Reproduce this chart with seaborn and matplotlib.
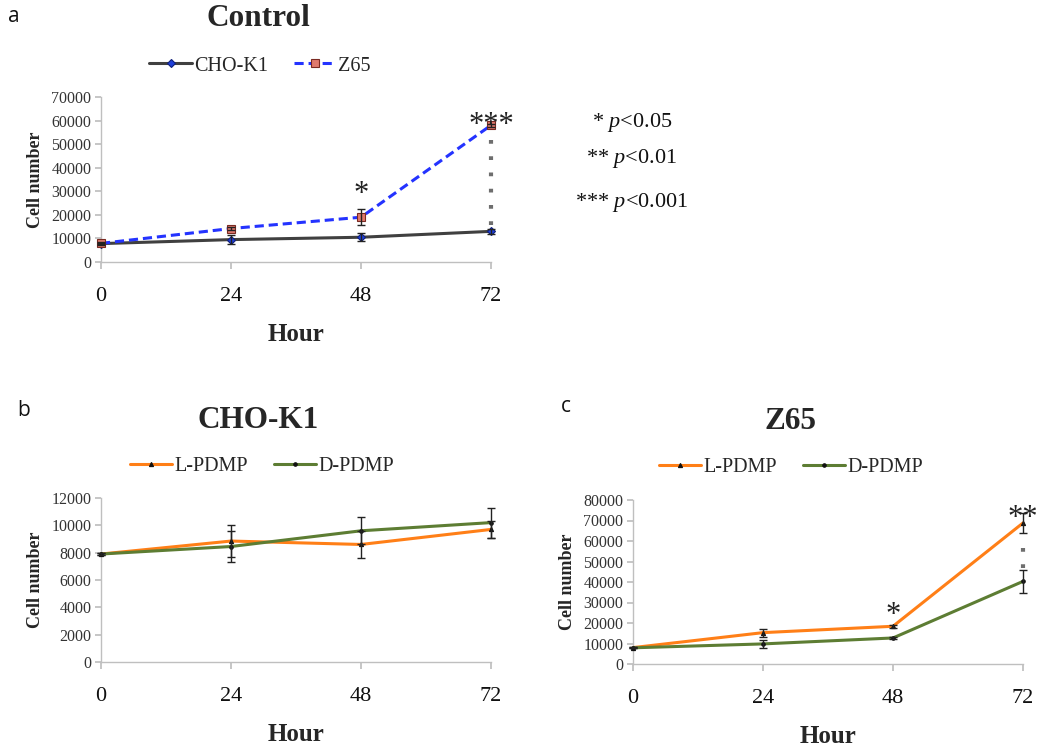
import numpy as np
import pandas as pd
import matplotlib
matplotlib.use("Agg")
import matplotlib.pyplot as plt
import seaborn as sns

# --- data ---
hours = [0, 24, 48, 72]

# panel a: Control
cho_k1 = [7800, 9500, 10500, 13000]
cho_k1_err = [500, 2000, 1700, 1000]
z65 = [7900, 14200, 19000, 58000]
z65_err = [300, 600, 3500, 600]

# panel b: CHO-K1
b_l_pdmp = [7900, 8850, 8600, 9700]
b_l_err = [80, 1200, 1000, 650]
b_d_pdmp = [7900, 8450, 9600, 10200]
b_d_err = [80, 1100, 1000, 1100]

# panel c: Z65
c_l_pdmp = [8000, 15300, 18400, 68800]
c_l_err = [300, 2000, 600, 4800]
c_d_pdmp = [7900, 9800, 12700, 40300]
c_d_err = [300, 1800, 500, 5500]

sns.set_theme(style="white")
plt.rcParams["font.family"] = ["Liberation Serif", "DejaVu Serif"]
plt.rcParams["mathtext.fontset"] = "custom"
plt.rcParams["mathtext.rm"] = "Liberation Serif"
plt.rcParams["mathtext.it"] = "Liberation Serif:italic"

W, H = 1037, 751
fig = plt.figure(figsize=(W / 100, H / 100), dpi=100)


def px_axes(left, top, right, bottom):
    return fig.add_axes([left / W, 1 - bottom / H, (right - left) / W, (bottom - top) / H])


def style_axes(ax, ymax, ystep):
    ax.set_xlim(0, 72)
    ax.set_ylim(0, ymax)
    ax.set_xticks(hours)
    ax.set_yticks(np.arange(0, ymax + 1, ystep))
    for s in ["top", "right"]:
        ax.spines[s].set_visible(False)
    for s in ["left", "bottom"]:
        ax.spines[s].set_color("#bfbfbf")
        ax.spines[s].set_linewidth(1.0)
    ax.tick_params(axis="x", direction="out", length=5, color="#bfbfbf",
                   labelsize=16, pad=13, labelcolor="#111111", bottom=True)
    ax.tick_params(axis="y", direction="out", length=4, color="#bfbfbf",
                   labelsize=11.5, pad=3, labelcolor="#333333", left=True)
    ax.set_xlabel("Hour", fontsize=18, fontweight="bold", labelpad=12)
    ax.set_ylabel("Cell number", fontsize=13, fontweight="bold", labelpad=5)
    ax.grid(False)
    ax.set_facecolor("none")


def draw_series(ax, y, err, color, ls, marker, mfc, mec, ms, label):
    df = pd.DataFrame({"Hour": hours, "Cells": y})
    sns.lineplot(data=df, x="Hour", y="Cells", ax=ax, color=color, linestyle=ls,
                 linewidth=2.2, marker=marker, markersize=ms, markerfacecolor=mfc,
                 markeredgecolor=mec, markeredgewidth=0.8, label=label, clip_on=False,
                 zorder=3)
    ax.errorbar(hours, y, yerr=err, fmt="none", ecolor="#222222", elinewidth=1.0,
                capsize=3, capthick=1.0, clip_on=False, zorder=4)


def legend_top(ax, x_center_px, y_px):
    ax.legend(loc="center", bbox_to_anchor=(x_center_px / W, 1 - y_px / H),
              bbox_transform=fig.transFigure, ncol=2, frameon=False, fontsize=14.5,
              handlelength=2.1, handletextpad=0.1, columnspacing=1.3)


def sig_link(ax, y0, y1):
    ax.plot([72, 72], [y0, y1], ls=(0, (0.9, 3.0)), color="#6e6e6e", lw=3.0,
            dash_capstyle="butt", zorder=2, clip_on=False)


# panel a
ax_a = px_axes(101, 97, 491, 262)
draw_series(ax_a, cho_k1, cho_k1_err, "#404040", "-", "D", "#1f3fd9", "#10207a", 4, "CHO-K1")
draw_series(ax_a, z65, z65_err, "#2433ff", (0, (3, 1.6)), "s", "#e07a6e", "#7a2a22", 6, "Z65")
style_axes(ax_a, 70000, 10000)
legend_top(ax_a, 260, 66)
sig_link(ax_a, 15500, 54500)
ax_a.text(48, 22500, "*", ha="center", va="bottom", fontsize=22, color="#222222")
ax_a.text(72, 51800, "***", ha="center", va="bottom", fontsize=22, color="#222222")

# p-value key
for ytxt, stars, p in [(122, "*", "<0.05"), (158, "**", "<0.01"), (203, "***", "<0.001")]:
    fig.text(632 / W, 1 - ytxt / H, stars + r" $\mathit{p}$" + p, ha="center", va="center",
             fontsize=16, color="#111111")

# panel b
ax_b = px_axes(101, 498, 491, 662)
draw_series(ax_b, b_l_pdmp, b_l_err, "#ff7f17", "-", "^", "#111111", "#111111", 3, "L-PDMP")
draw_series(ax_b, b_d_pdmp, b_d_err, "#5d7d33", "-", "o", "#111111", "#111111", 2.5, "D-PDMP")
style_axes(ax_b, 12000, 2000)
legend_top(ax_b, 262, 466)

# panel c
ax_c = px_axes(633, 500, 1023, 664)
draw_series(ax_c, c_l_pdmp, c_l_err, "#ff7f17", "-", "^", "#111111", "#111111", 3, "L-PDMP")
draw_series(ax_c, c_d_pdmp, c_d_err, "#5d7d33", "-", "o", "#111111", "#111111", 2.5, "D-PDMP")
style_axes(ax_c, 80000, 10000)
legend_top(ax_c, 791, 467)
sig_link(ax_c, 47000, 61000)
ax_c.text(48, 16500, "*", ha="center", va="bottom", fontsize=22, color="#222222")
ax_c.text(72, 64000, "**", ha="center", va="bottom", fontsize=22, color="#222222")

# titles and panel letters
fig.text(258 / W, 1 - 18 / H, "Control", ha="center", va="center", fontsize=22.5, fontweight="bold")
fig.text(258 / W, 1 - 421 / H, "CHO-K1", ha="center", va="center", fontsize=22.5, fontweight="bold")
fig.text(790 / W, 1 - 422 / H, "Z65", ha="center", va="center", fontsize=22.5, fontweight="bold")
for x, y, t in [(14, 16, "a"), (24, 410, "b"), (566, 406, "c")]:
    fig.text(x / W, 1 - y / H, t, ha="center", va="center", fontsize=15,
             family=["Open Sans", "DejaVu Sans"], color="#111111")

fig.savefig("out.png", dpi=100)
